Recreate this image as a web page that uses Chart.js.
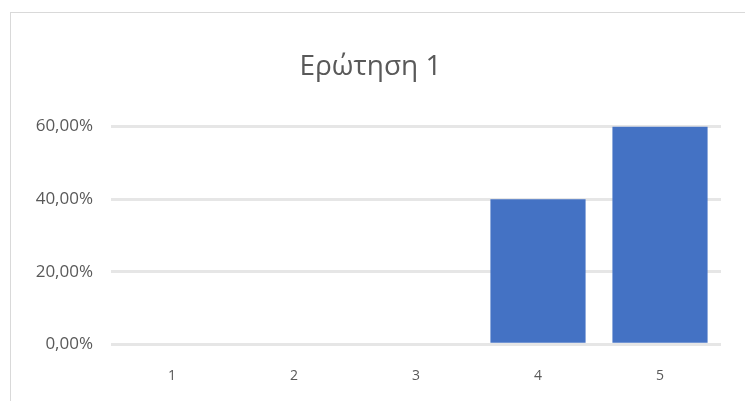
<!DOCTYPE html>
<html>
<head>
<meta charset="utf-8">
<script src="https://cdn.jsdelivr.net/npm/chart.js@4/dist/chart.umd.min.js"></script>
<style>
  html, body { margin: 0; padding: 0; background: #fff; }
  #frame {
    position: absolute; left: 10px; top: 12px; width: 740px; height: 395px;
    border: 1px solid #d9d9d9; box-sizing: border-box;
  }
  #wrap { position: absolute; left: 0; top: 0; width: 745px; height: 401px; }
</style>
</head>
<body>
<div id="frame"></div>
<div id="wrap"><canvas id="chart"></canvas></div>
<script>
// answers to question 1, share of responses in percent
const categories = ['1', '2', '3', '4', '5'];
const shares = [0, 0, 0, 40, 60];
const yTicks = [0, 20, 40, 60];

const ctx = document.getElementById('chart').getContext('2d');

new Chart(ctx, {
  type: 'bar',
  data: {
    labels: categories,
    datasets: [{
      data: shares,
      backgroundColor: '#4472c4',
      barPercentage: 0.78,
      categoryPercentage: 1.0
    }]
  },
  options: {
    responsive: true,
    maintainAspectRatio: false,
    animation: false,
    layout: { padding: { top: 50, right: 24, bottom: 2, left: 20 } },
    plugins: {
      legend: { display: false },
      tooltip: { enabled: false },
      title: {
        display: true,
        text: 'Ερώτηση 1',
        color: '#595959',
        font: { family: 'Open Sans', size: 28, weight: 'normal' },
        padding: { top: 0, bottom: 43 }
      }
    },
    scales: {
      x: {
        grid: { display: false },
        border: { display: false },
        ticks: { color: '#595959', font: { family: 'Open Sans', size: 14 }, padding: 15 }
      },
      y: {
        min: 0,
        max: 60,
        afterBuildTicks: (axis) => { axis.ticks = yTicks.map(v => ({ value: v })); },
        afterFit: (axis) => { axis.width = 91; },
        grid: { color: '#e6e6e6', lineWidth: 3, drawTicks: false },
        border: { display: false },
        ticks: {
          color: '#595959',
          font: { family: 'Open Sans', size: 17 },
          padding: 18,
          callback: (v) => v.toFixed(2).replace('.', ',') + '%'
        }
      }
    }
  }
});
</script>
</body>
</html>
